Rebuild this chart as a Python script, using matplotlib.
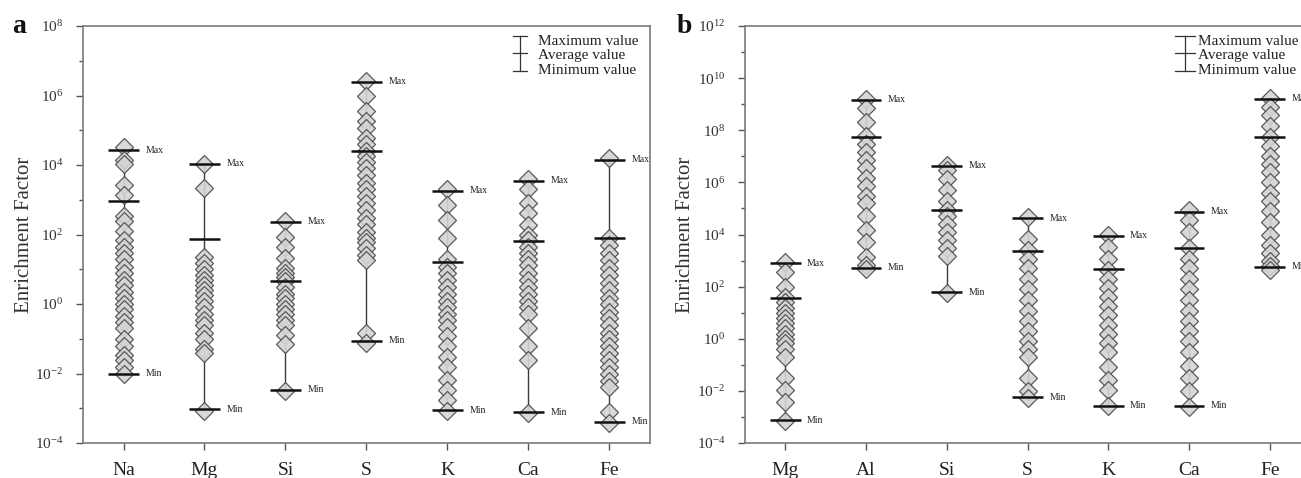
import numpy as np
import matplotlib
matplotlib.use("Agg")
import matplotlib.pyplot as plt
from matplotlib.ticker import FixedLocator, NullFormatter

plt.rcParams['font.family'] = ['Liberation Serif', 'DejaVu Serif']
plt.rcParams['mathtext.fontset'] = 'custom'
plt.rcParams['mathtext.rm'] = 'Liberation Serif'
plt.rcParams['mathtext.it'] = 'Liberation Serif:italic'

# ------------------------------------------------------------------
# Panel a data
cats_a = ["Na", "Mg", "Si", "S", "K", "Ca", "Fe"]
pts_a = [
    [3.2e4, 1.4e4, 1.1e4, 2.7e3, 1.4e3, 3.3e2, 2.4e2, 1.3e2, 70, 45, 30, 20, 12, 8, 5, 3.5,
     2.2, 1.5, 1.0, 0.7, 0.45, 0.3, 0.2, 0.1, 0.06, 0.035, 0.025, 0.015, 0.0095],
    [1.1e4, 2.2e3, 22, 15, 10, 7, 5, 3.5, 2.5, 1.8, 1.2, 0.8, 0.5, 0.35, 0.25, 0.15, 0.1,
     0.05, 0.039, 8.5e-4],
    [240, 85, 45, 21, 11, 8, 6, 4.5, 3, 2, 1.5, 1, 0.7, 0.5, 0.35, 0.25, 0.13, 0.07, 3.2e-3],
    [2.6e6, 1e6, 3.5e5, 1.8e5, 1.2e5, 6e4, 4e4, 2.6e4, 1.8e4, 1.2e4, 8e3, 5e3, 3e3, 2e3,
     1.3e3, 800, 500, 300, 200, 120, 80, 60, 40, 25, 19, 0.15, 0.075],
    [2e3, 700, 260, 80, 20, 12, 8, 5, 3, 2, 1.2, 0.8, 0.5, 0.35, 0.22, 0.12, 0.06, 0.03,
     0.015, 6.5e-3, 3.4e-3, 1.7e-3, 8.5e-4],
    [4e3, 2e3, 800, 420, 190, 100, 70, 45, 30, 20, 13, 8, 5, 3, 2, 1.2, 0.8, 0.5, 0.2,
     0.06, 0.025, 7.5e-4],
    [1.6e4, 80, 50, 30, 18, 11, 7, 4, 2.5, 1.5, 1, 0.6, 0.4, 0.25, 0.15, 0.1, 0.06, 0.04,
     0.025, 0.015, 0.01, 6e-3, 4e-3, 8e-4, 3.8e-4],
]
max_a = [2.7e4, 1.07e4, 2.35e2, 2.5e6, 1.8e3, 3.5e3, 1.4e4]
avg_a = [9.0e2, 72, 4.5, 2.6e4, 16.6, 67, 80]
min_a = [0.01, 9.3e-4, 3.4e-3, 0.087, 8.7e-4, 7.6e-4, 4.1e-4]

# ------------------------------------------------------------------
# Panel b data
cats_b = ["Mg", "Al", "Si", "S", "K", "Ca", "Fe"]
pts_b = [
    [9e2, 350, 100, 40, 25, 15, 10, 6, 4, 2.5, 1.5, 1, 0.7, 0.4, 0.2, 0.03, 0.011,
     3.8e-3, 7e-4],
    [1.6e9, 7e8, 2e8, 6e7, 3e7, 1.5e7, 7e6, 3.5e6, 1.5e6, 7e5, 3e5, 1.6e5, 5e4, 1.5e4,
     5e3, 1.4e3, 7e2, 4.8e2],
    [4.7e6, 3e6, 1.3e6, 5e5, 2e5, 9e4, 5e4, 2.5e4, 1.2e4, 6e3, 3e3, 1.5e3, 55],
    [4.5e4, 7e3, 2.5e3, 1.2e3, 500, 200, 80, 30, 12, 5, 2, 0.8, 0.4, 0.2, 0.03, 0.01,
     5.2e-3],
    [1e4, 3.4e3, 1.1e3, 450, 200, 90, 40, 18, 8, 3.5, 1.5, 0.7, 0.3, 0.085, 0.027, 0.011,
     2.6e-3],
    [9e4, 3.5e4, 1.2e4, 3e3, 1.2e3, 500, 200, 80, 30, 12, 5, 2, 0.8, 0.3, 0.09, 0.03,
     0.01, 2.4e-3],
    [1.7e9, 8e8, 4e8, 1.5e8, 5.5e7, 2.5e7, 1e7, 5e6, 2.5e6, 1e6, 4e5, 2e5, 8e4, 3e4,
     1e4, 4e3, 2e3, 1e3, 6e2, 4.5e2],
]
max_b = [8e2, 1.45e9, 4.4e6, 4.2e4, 9.1e3, 7.6e4, 1.6e9]
avg_b = [38, 5.7e7, 8.9e4, 2.4e3, 470, 3.0e3, 5.4e7]
min_b = [7.4e-4, 540, 60, 5.8e-3, 2.7e-3, 2.7e-3, 590]

legend_labels = ["Maximum value", "Average value", "Minimum value"]


def draw_panel(ax, cats, pts, vmax, vavg, vmin, ylim, letter, letter_x, leg_x, leg_w):
    x = np.arange(1, len(cats) + 1)
    for i in range(len(cats)):
        ax.plot([x[i], x[i]], [vmin[i], vmax[i]], color="#3a3a3a", lw=1.0, zorder=1)
        ax.plot(np.full(len(pts[i]), x[i]), pts[i], linestyle="none", marker="D",
                markersize=9.5, markerfacecolor="#d4d4d4", markeredgecolor="#4a4a4a",
                markeredgewidth=0.9, alpha=0.9, zorder=2)
        for v in (vmax[i], vavg[i], vmin[i]):
            ax.plot([x[i] - 0.19, x[i] + 0.19], [v, v], color="#111111", lw=1.8,
                    solid_capstyle="butt", zorder=3)
        ax.text(x[i] + 0.27, vmax[i], "Max", fontsize=7, va="center", ha="left",
                color="#222222")
        ax.text(x[i] + 0.27, vmin[i], "Min", fontsize=7, va="center", ha="left",
                color="#222222")

    ax.set_yscale("log")
    ax.set_ylim(*ylim)
    ax.set_xlim(0.5, len(cats) + 0.5)
    lo, hi = int(np.log10(ylim[0])), int(np.log10(ylim[1]))
    majors = [10.0 ** k for k in range(lo, hi + 1, 2)]
    minors = [10.0 ** k for k in range(lo + 1, hi, 2)]
    ax.yaxis.set_major_locator(FixedLocator(majors))
    ax.yaxis.set_minor_locator(FixedLocator(minors))
    ax.yaxis.set_minor_formatter(NullFormatter())
    ax.set_yticklabels([r"$10^{%d}$" % k for k in range(lo, hi + 1, 2)])
    ax.set_xticks(x)
    ax.set_xticklabels(cats, fontsize=14, color="#222222")
    ax.tick_params(axis="y", which="major", direction="out", length=5, width=1,
                   labelsize=11, pad=9, colors="#555555", labelcolor="#333333")
    ax.tick_params(axis="y", which="minor", direction="out", length=3, width=1,
                   colors="#555555")
    ax.tick_params(axis="x", direction="out", length=5, width=1, pad=9,
                   colors="#555555", labelcolor="#222222")
    for s in ax.spines.values():
        s.set_color("#7a7a7a")
        s.set_linewidth(1.2)
    ax.set_ylabel("Enrichment Factor", fontsize=15, color="#333333", labelpad=1)

    # legend glyph drawn in axes coordinates
    tr = ax.transAxes
    ys = [0.977, 0.935, 0.893]
    ax.plot([leg_x, leg_x], [ys[0], ys[2]], color="#333333", lw=0.9, transform=tr)
    for yy in ys:
        ax.plot([leg_x - leg_w, leg_x + leg_w], [yy, yy], color="#333333", lw=0.9,
                transform=tr)
    for yy, lab in zip([0.963, 0.930, 0.894], legend_labels):
        ax.text(0.802, yy, lab, fontsize=11, transform=tr,
                va="center", ha="left", color="#222222")

    ax.text(letter_x, 1.0, letter, fontsize=20, fontweight="bold", transform=tr,
            va="center", ha="left", color="#111111")


fig = plt.figure(figsize=(13.01, 4.78), dpi=100)
ax_a = fig.add_axes([0.0638, 0.0732, 0.4358, 0.8724])
ax_b = fig.add_axes([0.5726, 0.0732, 0.4344, 0.8724])

draw_panel(ax_a, cats_a, pts_a, max_a, avg_a, min_a, (1e-4, 1e8), "a", -0.125, 0.771, 0.012)
draw_panel(ax_b, cats_b, pts_b, max_b, avg_b, min_b, (1e-4, 1e12), "b", -0.12, 0.779, 0.018)

fig.savefig("out.png", dpi=100)
